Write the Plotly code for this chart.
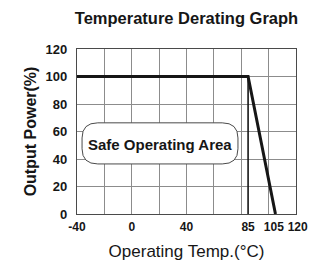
import plotly.graph_objects as go

# Data
curve_temp = [-40, 85, 105]
curve_power = [100, 100, 0]
limit_temp = [85, 85]
limit_power = [0, 100]
grid_ticks_x = [-40, -20, 0, 20, 40, 60, 80, 100, 120]
label_ticks_x = [-40, 0, 40, 85, 105, 120]
label_text_x = ["-40", "0", "40", "85", "105 ", " 120"]
ticks_y = [0, 20, 40, 60, 80, 100, 120]

FONT = "Liberation Sans, Arial, sans-serif"
INK = "#161616"

# page body has an 8px margin; figure sized to fill the rest of the 320x261 window
W, H = 312, 253

fig = go.Figure()
fig.add_trace(go.Scatter(x=curve_temp, y=curve_power, mode="lines",
                         line=dict(color=INK, width=3), xaxis="x", yaxis="y",
                         hoverinfo="skip", showlegend=False))
fig.add_trace(go.Scatter(x=limit_temp, y=limit_power, mode="lines",
                         line=dict(color=INK, width=1.6), xaxis="x2", yaxis="y",
                         hoverinfo="skip", showlegend=False))

# Safe Operating Area rounded box (data coords)
x0, x1, y0, y1 = -36.3, 77.6, 36.4, 66.3
rx, ry = 11.5, 11.0
path = (f"M {x0+rx},{y1} L {x1-rx},{y1} Q {x1},{y1} {x1},{y1-ry} "
        f"L {x1},{y0+ry} Q {x1},{y0} {x1-rx},{y0} L {x0+rx},{y0} "
        f"Q {x0},{y0} {x0},{y0+ry} L {x0},{y1-ry} Q {x0},{y1} {x0+rx},{y1} Z")
fig.add_shape(type="path", path=path, xref="x", yref="y",
              fillcolor="white", line=dict(color="#4a4a4a", width=1), layer="above")
fig.add_annotation(x=(x0 + x1) / 2, y=(y0 + y1) / 2 - 0.5, xref="x", yref="y",
                   text="<b>Safe Operating Area</b>", showarrow=False,
                   font=dict(family=FONT, size=15, color=INK))

fig.update_layout(
    width=W, height=H,
    margin=dict(l=69, r=24, t=41, b=47),
    paper_bgcolor="white", plot_bgcolor="white",
    title=dict(text="<b>Temperature Derating Graph</b>", x=0.5, xref="paper",
               y=1 - 10 / H, yref="container", xanchor="center", yanchor="middle",
               font=dict(family=FONT, size=16.5, color=INK)),
    xaxis=dict(range=[-40, 120], tickvals=grid_ticks_x, showticklabels=False,
               showgrid=True, gridcolor="#8c8c8c", gridwidth=1,
               showline=True, mirror=True, linecolor="#4a4a4a", linewidth=1.2,
               zeroline=False, ticks="", automargin=False),
    xaxis2=dict(range=[-40, 120], matches="x", overlaying="x", side="bottom",
                tickvals=label_ticks_x, ticktext=label_text_x, tickangle=0,
                showgrid=False, zeroline=False, ticks="", ticklabelstandoff=4,
                automargin=False,
                tickfont=dict(family=FONT, size=12, color=INK, weight="bold"),
                title=dict(text="Operating Temp.(°C)", standoff=14,
                           font=dict(family=FONT, size=17, color=INK))),
    yaxis=dict(range=[0, 120], tickvals=ticks_y,
               showgrid=True, gridcolor="#8c8c8c", gridwidth=1,
               showline=True, mirror=True, linecolor="#4a4a4a", linewidth=1.2,
               zeroline=False, ticks="", ticklabelstandoff=6, automargin=False,
               tickfont=dict(family=FONT, size=13, color=INK, weight="bold"),
               title=dict(text="<b>Output Power(%)</b>", standoff=4,
                          font=dict(family=FONT, size=16, color=INK))),
)

fig.write_html("out.html")
